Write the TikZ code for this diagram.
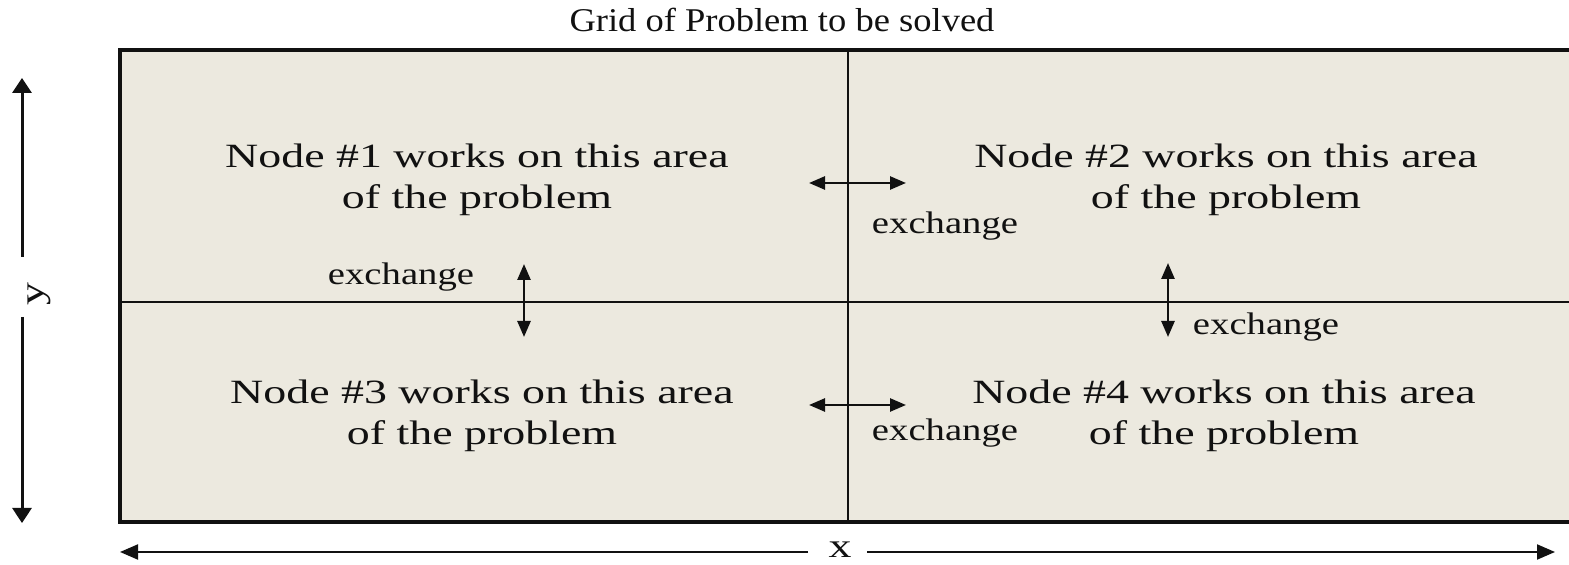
\documentclass[tikz,border=0pt]{standalone}
\usepackage{fontspec}
\newfontfamily\bodyfont[FakeStretch=1.35]{Liberation Serif}
\newfontfamily\headfont[FakeStretch=1.1]{Liberation Serif}
\newfontfamily\xchfont[FakeStretch=1.24]{Liberation Serif}
\usetikzlibrary{arrows.meta}
\definecolor{gpInk}{HTML}{111111}
\definecolor{gpSand}{HTML}{ECE9DF}
\tikzset{
  area/.style={align=center, text=gpInk, font=\bodyfont\fontsize{17}{20.5}\selectfont},
  xch/.style={anchor=base, text=gpInk, font=\xchfont\fontsize{15.6}{18}\selectfont},
  xarr/.style={{Triangle[length=8pt,width=6.5pt]}-{Triangle[length=8pt,width=6.5pt]}, line width=1.3pt, draw=gpInk},
  yarr/.style={-{Triangle[length=7.5pt,width=9.5pt]}, line width=1.5pt, draw=gpInk},
  xaxarr/.style={-{Triangle[length=9pt,width=7.5pt]}, line width=1pt, draw=gpInk},
}

\begin{document}
\begin{tikzpicture}[x=0.5pt,y=-0.5pt]
  \useasboundingbox (0,0) rectangle (1569,565);
  \clip (0,0) rectangle (1569,565);
  % grid of the problem
  \fill[gpSand] (120,50) rectangle (1576,522);
  \draw[line width=1.4pt, gpInk] (120,302) -- (1576,302) (848,50) -- (848,522);
  \draw[line width=1.7pt, gpInk] (120,50) rectangle (1576,522);
  \node[anchor=base, text=gpInk, font=\headfont\fontsize{16.6}{20}\selectfont] (title) at (782,32) {Grid of Problem to be solved};
  \foreach \k/\x/\y in {1/477/180, 2/1226/180, 3/482/416, 4/1224/416}{
    \node[area] (n\k) at (\x,\y) {Node \#\k\ works on this area\\of the problem};
  }
  % exchanges between the areas
  \foreach \k/\xa/\ya/\xb/\yb/\lx/\ly in {12/809/183/906/183/945/234, 13/524/264/524/337/401/285, 34/809/405/906/405/945/441, 24/1168/263/1168/337/1266/335}{
    \coordinate (ea\k) at (\xa,\ya);
    \coordinate (eb\k) at (\xb,\yb);
    \draw[xarr] (ea\k) -- (eb\k);
    \node[xch] (xl\k) at (\lx,\ly) {exchange};
  }
  % axes
  \node[rotate=90, anchor=base, text=gpInk, font=\bodyfont\fontsize{17}{20}\selectfont] (ylab) at (43,294) {y};
  \coordinate (ytop) at (22,78);
  \coordinate (ya) at (22,257);
  \coordinate (yb) at (22,317);
  \coordinate (ybot) at (22,523);
  \draw[yarr] (ya) -- (ytop);
  \draw[yarr] (yb) -- (ybot);
  \node[anchor=base, inner sep=0pt, text=gpInk, font=\bodyfont\fontsize{17}{20}\selectfont] (xlab) at (840,558) {x};
  \coordinate (xleft) at (120,552);
  \coordinate (xa) at (808,552);
  \coordinate (xb) at (867,552);
  \coordinate (xright) at (1555,552);
  \draw[xaxarr] (xa) -- (xleft);
  \draw[xaxarr] (xb) -- (xright);
\end{tikzpicture}
\end{document}
